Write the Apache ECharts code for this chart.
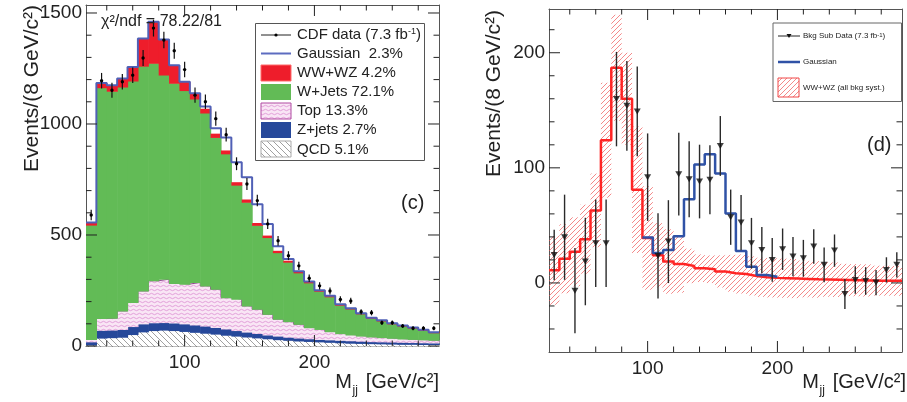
<!DOCTYPE html>
<html>
<head>
<meta charset="utf-8">
<script src="https://cdn.jsdelivr.net/npm/echarts@6/dist/echarts.min.js"></script>
<style>
  html, body { margin: 0; padding: 0; background: #fff; }
  #chart { width: 907px; height: 402px; }
</style>
</head>
<body>
<div id="chart"></div>
<script>
// Dijet invariant mass, 8 GeV/c^2 bins from 24 to 296 GeV/c^2
const binEdges = [24, 32, 40, 48, 56, 64, 72, 80, 88, 96, 104, 112, 120, 128, 136, 144, 152, 160,
                  168, 176, 184, 192, 200, 208, 216, 224, 232, 240, 248, 256, 264, 272, 280, 288, 296];

// Background templates, events per bin
const qcd   = [5, 36, 38, 40, 52, 64, 70, 72, 70, 66, 62, 58, 54, 49, 45, 41, 37, 33, 29, 26, 23, 21, 19, 17, 15, 13, 12, 11, 10, 9, 8, 8, 7, 7];
const zJets = [14, 35, 34, 35, 36, 36, 35, 34, 34, 34, 33, 32, 30, 28, 25, 22, 20, 17, 16, 14, 13, 12, 11, 11, 11, 11, 10, 9, 9, 9, 9, 8, 8, 7];
const topQ  = [11, 53, 54, 83, 108, 148, 189, 195, 178, 179, 191, 181, 172, 141, 141, 118, 109, 93, 76, 70, 62, 50, 45, 37, 30, 26, 23, 21, 19, 17, 15, 14, 13, 12];
const wJets = [515, 1040, 1022, 1009, 998, 1013, 980, 920, 902, 872, 827, 779, 684, 648, 514, 467, 378, 346, 300, 268, 232, 202, 172, 157, 128, 117, 100, 84, 75, 65, 58, 51, 43, 34];
const wwWz  = [11, 21, 27, 38, 63, 124, 187, 160, 81, 39, 24, 18.6, 16.5, 14.8, 12.8, 11.9, 10, 8.4, 7.8, 6.1, 4.9, 4.4, 4.1, 3.8, 3.5, 3.2, 3, 2.8, 2.6, 2.4, 2.2, 2, 1.9, 1.8];
const gauss = [0, 0, 0, 0, 0, 0, 0, 0, 0, 0.5, 2, 10, 24, 58, 90, 100, 85, 52, 20, 8, 2, 1, 0, 0, 0, 0, 0, 0, 0, 0, 0, 0, 0, 0];

// CDF data (7.3 fb-1)
const dataVal = [590, 1195, 1152, 1190, 1220, 1297, 1432, 1378, 1330, 1245, 1130, 1100, 1024, 952, 821, 730, 655, 550, 474, 407, 361, 305, 271, 248, 210, 203, 154, 150, 105, 105, 90, 80, 80, 80];
const dataErr = [24, 35, 34, 35, 35, 36, 38, 37, 36, 35, 34, 33, 32, 31, 29, 27, 26, 23, 22, 20, 19, 17, 16, 16, 14, 14, 12, 12, 10, 10, 9, 9, 9, 9];

// Background-subtracted data and WW+WZ systematic band
const subVal = [24.3, 39.7, -6.7, 18.6, 34.5, 34.5, 159.7, 153.9, 149, 91.9, 23.5, 35.9, 94.5, 90.1, 88.1, 89.6, 119, 57.1, 52.5, 34.5, 28.7, 20, 29.3, 22.9, 21.4, 31.6, 15.7, 28.1, -9.6, 2.6, 1.7, 0.3, 11.3, 15.7];
const subErr = [22, 37, 37, 38, 38, 38, 41, 39, 39, 38, 37, 36, 36, 33, 32, 30, 26, 24, 24, 22, 20, 19, 18, 17, 16, 15, 15, 14, 13, 12, 12, 11, 11, 11];
const wwSyst = [30, 30, 30, 30, 32, 50, 46, 40, 55, 45, 28, 28, 25, 15, 12, 12, 14, 16, 17, 17, 17, 17, 17, 17, 16, 16, 15, 15, 14, 14, 14, 13, 13, 13];

// Axis ranges, tick labels and tick marks
const xRange = [24, 296];
const yRangeL = [0, 1536];
const yRangeR = [-60, 238];
const xLabels = [100, 200];
const yLabelsL = [0, 500, 1000, 1500];
const yLabelsR = [0, 100, 200];
const xMinorTicks = [40, 60, 80, 120, 140, 160, 180, 220, 240, 260, 280];
const yMinorTicksL = [100, 200, 300, 400, 600, 700, 800, 900, 1100, 1200, 1300, 1400];
const yMinorTicksR = [-40, -20, 20, 40, 60, 80, 120, 140, 160, 180, 220];

const FONT = '"Liberation Sans", Arial, Helvetica, sans-serif';

// Plot frames in pixels; axis indices of each panel's data axes
const frames = [
  { left: 86, top: 5, width: 353, height: 341, yr: yRangeL, yLab: yLabelsL, yMin: yMinorTicksL, axis: 0 },
  { left: 549, top: 9, width: 353, height: 343, yr: yRangeR, yLab: yLabelsR, yMin: yMinorTicksR, axis: 2 }
];

// ---- fill patterns ----
function hatch(size, bg, color, width, slash) {
  const c = document.createElement('canvas');
  c.width = c.height = size;
  const g = c.getContext('2d');
  if (bg) { g.fillStyle = bg; g.fillRect(0, 0, size, size); }
  g.strokeStyle = color; g.lineWidth = width;
  g.beginPath();
  if (slash) {
    g.moveTo(0, size); g.lineTo(size, 0);
    g.moveTo(-1, 1); g.lineTo(1, -1);
    g.moveTo(size - 1, size + 1); g.lineTo(size + 1, size - 1);
  } else {
    g.moveTo(0, 0); g.lineTo(size, size);
    g.moveTo(-1, size - 1); g.lineTo(1, size + 1);
    g.moveTo(size - 1, -1); g.lineTo(size + 1, 1);
  }
  g.stroke();
  return { image: c, repeat: 'repeat' };
}
function wave() {
  const c = document.createElement('canvas');
  c.width = 6; c.height = 4;
  const g = c.getContext('2d');
  g.fillStyle = '#f9e6f5'; g.fillRect(0, 0, 6, 4);
  g.strokeStyle = '#dc8ed2'; g.lineWidth = 0.8;
  g.beginPath();
  g.moveTo(0, 2); g.quadraticCurveTo(1.5, 0.6, 3, 2); g.quadraticCurveTo(4.5, 3.4, 6, 2);
  g.stroke();
  return { image: c, repeat: 'repeat' };
}
const qcdFill = hatch(6, '#ffffff', '#959595', 0.9, false);
const topFill = wave();
const bandFill = hatch(5, null, 'rgba(238,80,80,0.85)', 0.8, true);

const GREEN = '#62bb56', RED = '#ee1d2b', ZBLUE = '#26489a';

// ---- helpers ----
const stepData = (arr, from) => arr.map((v, i) => [binEdges[i + (from || 0)], v])
  .concat([[binEdges[arr.length + (from || 0)], arr[arr.length - 1]]]);
const centers = binEdges.slice(0, -1).map((e, i) => (e + binEdges[i + 1]) / 2);

const axisLineOn = { show: true, onZero: false, lineStyle: { color: '#555', width: 1 } };
const labelStyle = (vals, margin) => ({ show: true, customValues: vals, margin, color: '#222',
                                        fontFamily: FONT, fontSize: 19, formatter: v => String(v) });
const grids = [];
const xAxes = [];
const yAxes = [];

// Data grids: xAxis/yAxis 0,1 -> left panel ; 2,3 -> right panel
frames.forEach((f, gi) => {
  grids.push({ left: f.left, top: f.top, width: f.width, height: f.height });
  const common = { type: 'value', gridIndex: gi, splitLine: { show: false }, axisTick: { show: false }, axisLine: axisLineOn };
  xAxes.push(Object.assign({}, common, { position: 'bottom', min: xRange[0], max: xRange[1], axisLabel: labelStyle(xLabels, 7) }));
  xAxes.push(Object.assign({}, common, { position: 'top', min: xRange[0], max: xRange[1], axisLabel: { show: false } }));
  yAxes.push(Object.assign({}, common, { position: 'left', min: f.yr[0], max: f.yr[1], axisLabel: labelStyle(f.yLab, 4) }));
  yAxes.push(Object.assign({}, common, { position: 'right', min: f.yr[0], max: f.yr[1], axisLabel: { show: false } }));
});

// Stacked background histogram: one rect per bin between base and base+value
function stackBars(name, arr, base, fill, z) {
  return {
    type: 'custom', name, xAxisIndex: 0, yAxisIndex: 0, z, silent: true,
    data: arr.map((v, i) => [binEdges[i], binEdges[i + 1], base[i], base[i] + v]),
    renderItem(params, api) {
      const a = api.coord([api.value(0), api.value(3)]);
      const b = api.coord([api.value(1), api.value(2)]);
      return { type: 'rect',
               shape: { x: a[0], y: a[1], width: b[0] - a[0] + 0.6, height: b[1] - a[1] + 0.6 },
               style: { fill } };
    }
  };
}

const zero = qcd.map(() => 0);
const cum1 = qcd.slice();
const cum2 = cum1.map((v, i) => v + zJets[i]);
const cum3 = cum2.map((v, i) => v + topQ[i]);
const cum4 = cum3.map((v, i) => v + wJets[i]);
const cum5 = cum4.map((v, i) => v + wwWz[i]);
const totalWithGauss = cum5.map((v, i) => v + gauss[i]);

function errorBars(xi, yi, vals, errs, color, width, dot) {
  return {
    type: 'custom', xAxisIndex: xi, yAxisIndex: yi, z: 10, silent: true,
    data: vals.map((v, i) => [centers[i], v, errs[i]]),
    renderItem(params, api) {
      const x = api.value(0), y = api.value(1), e = api.value(2);
      const p = api.coord([x, y]), lo = api.coord([x, y - e]), hi = api.coord([x, y + e]);
      const kids = [{ type: 'line', shape: { x1: p[0], y1: lo[1], x2: p[0], y2: hi[1] },
                      style: { stroke: color, lineWidth: width } }];
      if (dot) kids.push({ type: 'circle', shape: { cx: p[0], cy: p[1], r: 1.7 }, style: { fill: '#000' } });
      return { type: 'group', children: kids };
    }
  };
}

const series = [
  stackBars('QCD', qcd, zero, qcdFill, 1),
  stackBars('Z+jets', zJets, cum1, ZBLUE, 2),
  stackBars('Top', topQ, cum2, topFill, 3),
  stackBars('W+Jets', wJets, cum3, GREEN, 4),
  stackBars('WW+WZ', wwWz, cum4, RED, 5),
  {
    type: 'line', name: 'Top edge', xAxisIndex: 0, yAxisIndex: 0, step: 'end', symbol: 'none', silent: true,
    data: stepData(cum3), lineStyle: { color: '#8e4a8e', width: 1 }, z: 3.5
  },
  {
    type: 'line', name: 'Gaussian', xAxisIndex: 0, yAxisIndex: 0, step: 'end', symbol: 'none', silent: true,
    data: stepData(totalWithGauss), lineStyle: { color: '#5060b6', width: 2 }, z: 6
  },
  errorBars(0, 0, dataVal, dataErr, '#111', 1.2, true),

  // right panel: systematic band
  {
    type: 'custom', xAxisIndex: 2, yAxisIndex: 2, z: 2, silent: true,
    data: wwWz.map((v, i) => [binEdges[i], binEdges[i + 1], v - wwSyst[i], v + wwSyst[i]]),
    renderItem(params, api) {
      const a = api.coord([api.value(0), api.value(3)]);
      const b = api.coord([api.value(1), api.value(2)]);
      return { type: 'rect', shape: { x: a[0], y: a[1], width: b[0] - a[0], height: b[1] - a[1] },
               style: { fill: bandFill } };
    }
  },
  {
    type: 'line', name: 'WW+WZ', xAxisIndex: 2, yAxisIndex: 2, step: 'end', symbol: 'none', silent: true,
    data: stepData(wwWz), lineStyle: { color: '#ff2424', width: 2.5 }, z: 4
  },
  {
    type: 'line', name: 'Gaussian', xAxisIndex: 2, yAxisIndex: 2, step: 'end', symbol: 'none', silent: true,
    data: stepData(wwWz.map((v, i) => v + gauss[i]).slice(9, 22), 9),
    lineStyle: { color: '#2f52a6', width: 2.5 }, z: 5
  },
  errorBars(2, 2, subVal, subErr, '#2a2a2a', 1.4, false),
  {
    type: 'scatter', xAxisIndex: 2, yAxisIndex: 2, z: 11, silent: true,
    symbol: 'triangle', symbolRotate: 180, symbolSize: [7, 6],
    data: subVal.map((v, i) => [centers[i], v]), itemStyle: { color: '#111' }
  }
];

// ---- text and legends ----
const txt = (x, y, text, size, opts = {}) => Object.assign({
  type: 'text', x, y, silent: true, z: 50,
  style: Object.assign({ text, fontFamily: FONT, fontSize: size, fill: '#222',
                         textAlign: 'left', textVerticalAlign: 'middle' }, opts.style || {})
}, opts.el || {});

const graphic = [
  // axis titles
  txt(32, 5, 'Events/(8 GeV/c²)', 21, { style: { textAlign: 'right' }, el: { rotation: Math.PI / 2 } }),
  txt(494, 10, 'Events/(8 GeV/c²)', 21, { style: { textAlign: 'right' }, el: { rotation: Math.PI / 2 } }),
  txt(352, 382, 'M', 20, { style: { textAlign: 'right' } }),
  txt(352.5, 391, 'jj', 12),
  txt(439, 382, '[GeV/c²]', 20, { style: { textAlign: 'right' } }),
  txt(819, 382, 'M', 20, { style: { textAlign: 'right' } }),
  txt(819.5, 391, 'jj', 12),
  txt(906, 382, '[GeV/c²]', 20, { style: { textAlign: 'right' } }),
  // panel annotations
  txt(101, 22, 'χ²/ndf = 78.22/81', 16),
  txt(401, 203, '(c)', 20),
  txt(867, 145, '(d)', 20),

  // left legend
  { type: 'rect', z: 40, silent: true, shape: { x: 255.5, y: 23.5, width: 169, height: 137 },
    style: { fill: '#fff', stroke: '#555', lineWidth: 1 } },
  { type: 'line', z: 45, silent: true, shape: { x1: 261, y1: 35, x2: 291, y2: 35 }, style: { stroke: '#222', lineWidth: 1 } },
  { type: 'circle', z: 45, silent: true, shape: { cx: 276, cy: 35, r: 1.6 }, style: { fill: '#000' } },
  { type: 'line', z: 45, silent: true, shape: { x1: 261, y1: 53.5, x2: 291, y2: 53.5 }, style: { stroke: '#5d6cc0', lineWidth: 2 } },
  { type: 'rect', z: 45, silent: true, shape: { x: 261, y: 65, width: 30, height: 16 }, style: { fill: RED, stroke: '#ff6a6a', lineWidth: 1 } },
  { type: 'rect', z: 45, silent: true, shape: { x: 261, y: 84, width: 30, height: 16 }, style: { fill: GREEN } },
  { type: 'rect', z: 45, silent: true, shape: { x: 261, y: 103, width: 30, height: 16 }, style: { fill: topFill, stroke: '#b04aa2', lineWidth: 1 } },
  { type: 'rect', z: 45, silent: true, shape: { x: 261, y: 122, width: 30, height: 16 }, style: { fill: ZBLUE } },
  { type: 'rect', z: 45, silent: true, shape: { x: 261, y: 141, width: 30, height: 16 }, style: { fill: qcdFill, stroke: '#aaa', lineWidth: 1 } },
  txt(297, 35, 'CDF data (7.3 fb{s|-1})', 15, { style: { rich: { s: { fontSize: 9, fontFamily: FONT, verticalAlign: 'top', fill: '#222' } } } }),
  txt(297, 54, 'Gaussian  2.3%', 15),
  txt(297, 73, 'WW+WZ 4.2%', 15),
  txt(297, 92, 'W+Jets 72.1%', 15),
  txt(297, 111, 'Top 13.3%', 15),
  txt(297, 130, 'Z+jets 2.7%', 15),
  txt(297, 149.5, 'QCD 5.1%', 15),

  // right legend
  { type: 'rect', z: 40, silent: true, shape: { x: 773, y: 23, width: 128.5, height: 78.5 },
    style: { fill: '#fff', stroke: '#666', lineWidth: 1 } },
  { type: 'line', z: 45, silent: true, shape: { x1: 778, y1: 36, x2: 800, y2: 36 }, style: { stroke: '#222', lineWidth: 1 } },
  { type: 'polygon', z: 45, silent: true, shape: { points: [[786.5, 34], [791.5, 34], [789, 38]] }, style: { fill: '#111' } },
  { type: 'line', z: 45, silent: true, shape: { x1: 778, y1: 62, x2: 800, y2: 62 }, style: { stroke: '#2f52a6', lineWidth: 2.5 } },
  { type: 'rect', z: 45, silent: true, shape: { x: 778, y: 78, width: 21, height: 19 }, style: { fill: bandFill, stroke: '#f04848', lineWidth: 1 } },
  txt(803, 36, 'Bkg Sub Data (7.3 fb{s|-1})', 8, { style: { rich: { s: { fontSize: 6, fontFamily: FONT, verticalAlign: 'top', fill: '#222' } } } }),
  txt(803, 62, 'Gaussian', 8),
  txt(803, 88, 'WW+WZ (all bkg syst.)', 8)
];

const chart = echarts.init(document.getElementById('chart'), null, { renderer: 'canvas' });
chart.setOption({
  animation: false,
  backgroundColor: '#fff',
  grid: grids,
  xAxis: xAxes,
  yAxis: yAxes,
  series,
  graphic
});

// Inward ROOT-style tick marks on all four frame sides, positioned with the axis scales
const tickMarks = [];
frames.forEach(f => {
  const finder = { xAxisIndex: f.axis, yAxisIndex: f.axis };
  const px = (x, y) => chart.convertToPixel(finder, [x, y]);
  const seg = (p, dx, dy) => tickMarks.push({
    type: 'line', z: 30, silent: true,
    shape: { x1: p[0], y1: p[1], x2: p[0] + dx, y2: p[1] + dy },
    style: { stroke: '#222', lineWidth: 1 }
  });
  const xt = (vals, len) => vals.forEach(v => { seg(px(v, f.yr[0]), 0, -len); seg(px(v, f.yr[1]), 0, len); });
  const yt = (vals, len) => vals.forEach(v => { seg(px(xRange[0], v), len, 0); seg(px(xRange[1], v), -len, 0); });
  xt(xLabels, 11); xt(xMinorTicks, 5.5);
  yt(f.yLab, 11); yt(f.yMin, 5.5);
});
chart.setOption({ graphic: graphic.concat(tickMarks) });
</script>
</body>
</html>
